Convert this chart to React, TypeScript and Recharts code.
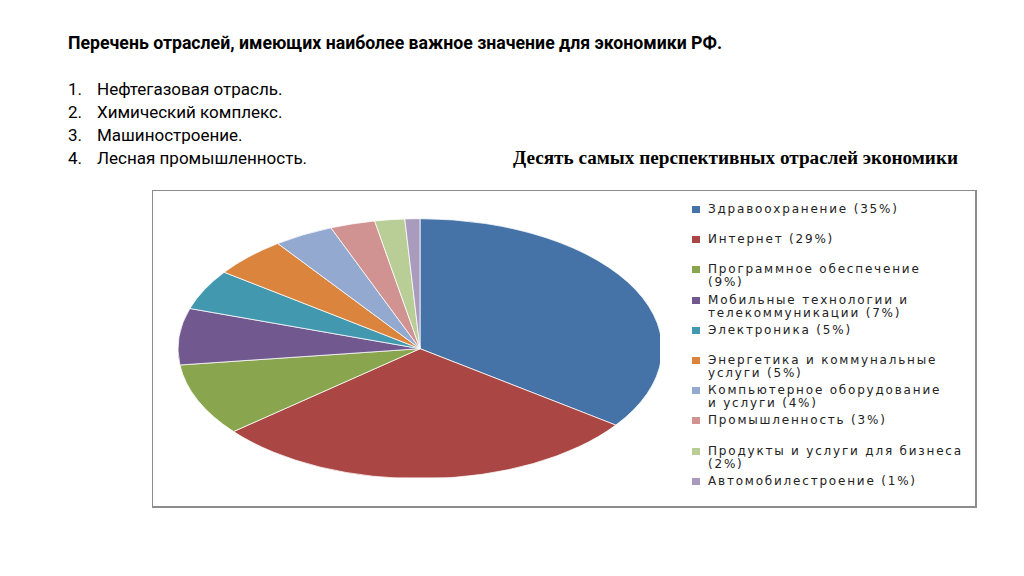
import { PieChart, Pie, Cell } from 'recharts'

// legend labels keep the line breaks used on the slide
const industries = [
  'Здравоохранение',
  'Интернет',
  'Программное обеспечение\n',
  'Мобильные технологии и\nтелекоммуникации',
  'Электроника',
  'Энергетика и коммунальные\nуслуги',
  'Компьютерное оборудование\nи услуги',
  'Промышленность',
  'Продукты и услуги для бизнеса\n',
  'Автомобилестроение',
]
const shares = [35, 29, 9, 7, 5, 5, 4, 3, 2, 1]
const colors = [
  '#4572A7',
  '#AA4643',
  '#89A54E',
  '#71588F',
  '#4198AF',
  '#DB843D',
  '#93A9CF',
  '#D19392',
  '#B9CD96',
  '#A99BBD',
]

const heading = 'Перечень отраслей, имеющих наиболее важное значение для экономики РФ.'
const keyIndustries = [
  'Нефтегазовая отрасль.',
  'Химический комплекс.',
  'Машиностроение.',
  'Лесная промышленность.',
]
const chartTitle = 'Десять самых перспективных отраслей экономики'

export default function App() {
  const data = industries.map((name, i) => ({ name, value: shares[i] }))

  return (
    <div
      style={{
        position: 'fixed',
        left: 0,
        top: 0,
        width: 1024,
        height: 576,
        background: '#fff',
        overflow: 'hidden',
      }}
    >
      {/* slide heading */}
      <div
        style={{
          position: 'absolute',
          left: 68,
          top: 33,
          fontFamily: '"Liberation Sans Narrow", Roboto, sans-serif',
          fontWeight: 700,
          fontSize: 17.7,
          color: '#000',
          whiteSpace: 'nowrap',
        }}
      >
        {heading}
      </div>

      {/* numbered list */}
      {keyIndustries.map((t, i) => (
        <div
          key={t}
          style={{
            position: 'absolute',
            left: 68,
            top: 79 + i * 23,
            fontFamily: '"Liberation Sans Narrow", Roboto, sans-serif',
            fontSize: 17,
            color: '#000',
            whiteSpace: 'nowrap',
          }}
        >
          <span style={{ display: 'inline-block', width: 29 }}>{i + 1}.</span>
          {t}
        </div>
      ))}

      {/* chart title */}
      <div
        style={{
          position: 'absolute',
          left: 513,
          top: 147,
          fontFamily: '"Liberation Serif", serif',
          fontWeight: 700,
          fontSize: 19.2,
          lineHeight: '22px',
          color: '#000',
          whiteSpace: 'nowrap',
        }}
      >
        {chartTitle}
      </div>

      {/* chart frame */}
      <div
        style={{
          position: 'absolute',
          left: 152,
          top: 190,
          width: 822,
          height: 315,
          border: '1px solid #8c8c8c',
          borderRightWidth: 2,
          borderBottomWidth: 2,
        }}
      />

      {/* pie, squashed into an ellipse */}
      <div
        style={{
          position: 'absolute',
          left: 415 - 245,
          top: 346 - 245,
          width: 490,
          height: 490,
          transform: `scaleY(${130 / 242})`,
          transformOrigin: 'center center',
        }}
      >
        <PieChart width={490} height={490}>
          <Pie
            data={data}
            dataKey="value"
            nameKey="name"
            cx={245}
            cy={245}
            outerRadius={242}
            startAngle={90}
            endAngle={-270}
            stroke="#ffffff"
            strokeWidth={1}
            isAnimationActive={false}
          >
            {data.map((d, i) => (
              <Cell key={d.name} fill={colors[i]} />
            ))}
          </Pie>
        </PieChart>
      </div>

      {/* legend */}
      {data.map((d, i) => (
        <div
          key={d.name}
          style={{
            position: 'absolute',
            left: 692,
            top: 203 + i * 30.2,
            display: 'flex',
            alignItems: 'flex-start',
            fontFamily: '"DejaVu Sans", sans-serif',
            fontSize: 12,
            lineHeight: '13px',
            letterSpacing: 1.8,
            color: '#222',
          }}
        >
          <span
            style={{
              display: 'inline-block',
              width: 8,
              height: 7,
              marginTop: 3,
              marginRight: 8,
              flexShrink: 0,
              background: colors[i],
            }}
          />
          <span style={{ whiteSpace: 'pre' }}>{`${d.name}${d.name.endsWith('\n') ? '' : ' '}(${d.value}%)`}</span>
        </div>
      ))}
    </div>
  )
}
